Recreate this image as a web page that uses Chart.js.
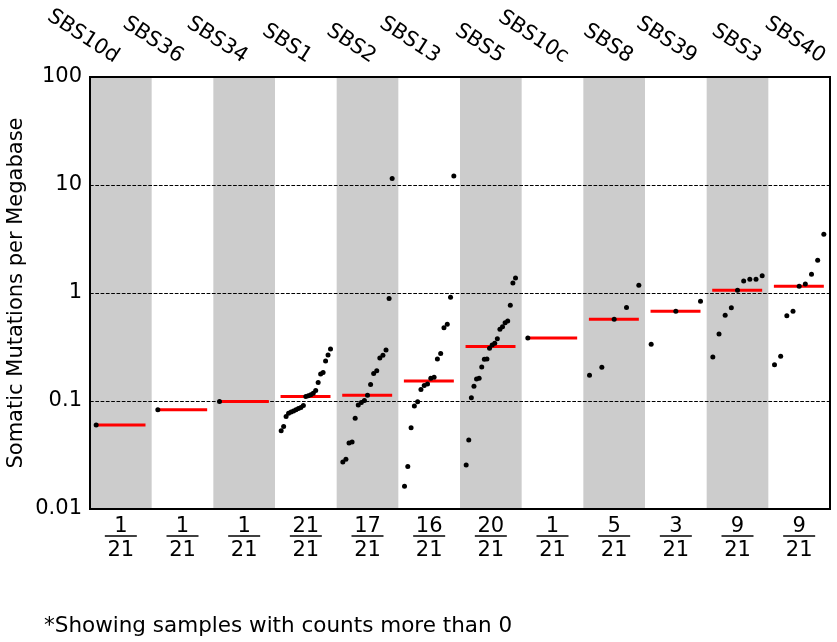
<!DOCTYPE html>
<html>
<head>
    <meta charset="UTF-8">
    <script src="https://cdn.jsdelivr.net/npm/chart.js@4.4.0/dist/chart.umd.min.js"></script>
    <style>
        body { margin: 0; background: #fff; }
    </style>
    <title>Mutational signatures</title>
</head>
<body>
    <canvas id="tmbChart" width="837" height="642"></canvas>

    <script>
        // signature names (top labels) and sample totals
        const signatures = ['SBS10d', 'SBS36', 'SBS34', 'SBS1', 'SBS2', 'SBS13', 'SBS5', 'SBS10c', 'SBS8', 'SBS39', 'SBS3', 'SBS40'];
        const totalSamples = 21;

        // mutations per megabase, per signature, sorted
        const sbs10d = [0.060];
        const sbs36 = [0.083];
        const sbs34 = [0.099];
        const sbs1 = [0.053, 0.058, 0.072, 0.077, 0.079, 0.081, 0.083, 0.085, 0.087, 0.091, 0.110, 0.112, 0.114, 0.118, 0.125, 0.148, 0.178, 0.184, 0.234, 0.267, 0.303];
        const sbs2 = [0.0272, 0.0289, 0.0408, 0.0417, 0.0691, 0.0918, 0.0966, 0.101, 0.113, 0.142, 0.180, 0.191, 0.250, 0.265, 0.297, 0.887, 11.5];
        const sbs13 = [0.0162, 0.0248, 0.0566, 0.090, 0.0986, 0.128, 0.139, 0.144, 0.162, 0.166, 0.245, 0.276, 0.477, 0.513, 0.912, 12.1];
        const sbs5 = [0.0255, 0.0435, 0.107, 0.137, 0.160, 0.162, 0.206, 0.243, 0.245, 0.308, 0.330, 0.342, 0.378, 0.461, 0.488, 0.531, 0.550, 0.769, 1.238, 1.377];
        const sbs10c = [0.383];
        const sbs8 = [0.173, 0.205, 0.570, 0.736, 1.178];
        const sbs39 = [0.335, 0.676, 0.838];
        const sbs3 = [0.255, 0.417, 0.621, 0.731, 1.059, 1.291, 1.339, 1.339, 1.446];
        const sbs40 = [0.217, 0.259, 0.616, 0.676, 1.153, 1.212, 1.490, 2.005, 3.49];

        const sampleValues = [sbs10d, sbs36, sbs34, sbs1, sbs2, sbs13, sbs5, sbs10c, sbs8, sbs39, sbs3, sbs40];

        const yTicks = [0.01, 0.1, 1, 10, 100];
        const yTickLabels = ['0.01', '0.1', '1', '10', '100'];

        const FONT = 'DejaVu Sans';

        function median(arr) {
            const s = arr.slice().sort((a, b) => a - b);
            const m = Math.floor(s.length / 2);
            return s.length % 2 ? s[m] : (s[m - 1] + s[m]) / 2;
        }

        // spread each signature's samples across its column
        const pointData = [];
        const medianData = [];
        sampleValues.forEach(function (vals, i) {
            const n = vals.length;
            vals.forEach(function (v, j) {
                const frac = n > 1 ? j / (n - 1) : 0;
                pointData.push({ x: i + 0.1 + 0.8 * frac, y: v });
            });
            const med = median(vals);
            medianData.push({ x: i + 0.09, y: med });
            medianData.push({ x: i + 0.9, y: med });
            medianData.push({ x: i + 0.95, y: null });
        });

        const decorPlugin = {
            id: 'decor',
            beforeDraw(chart) {
                const ctx = chart.ctx;
                const ca = chart.chartArea;
                const xs = chart.scales.x;
                ctx.save();
                ctx.fillStyle = '#fff';
                ctx.fillRect(0, 0, chart.width, chart.height);
                ctx.fillStyle = '#cccccc';
                for (let i = 0; i < signatures.length; i += 2) {
                    const x0 = xs.getPixelForValue(i);
                    const x1 = xs.getPixelForValue(i + 1);
                    ctx.fillRect(x0, ca.top, x1 - x0, ca.bottom - ca.top);
                }
                ctx.restore();
            },
            afterDraw(chart) {
                const ctx = chart.ctx;
                const ca = chart.chartArea;
                const xs = chart.scales.x;
                ctx.save();

                // frame
                ctx.strokeStyle = '#000';
                ctx.lineWidth = 2;
                ctx.strokeRect(ca.left, ca.top, ca.right - ca.left, ca.bottom - ca.top);

                // fraction bars under the counts
                ctx.lineWidth = 1.5;
                for (let i = 0; i < signatures.length; i++) {
                    const cx = xs.getPixelForValue(i + 0.5);
                    ctx.beginPath();
                    ctx.moveTo(cx - 16, 536);
                    ctx.lineTo(cx + 16, 536);
                    ctx.stroke();
                }

                // rotated signature names above the plot
                ctx.fillStyle = '#000';
                ctx.font = '21px "' + FONT + '"';
                ctx.textAlign = 'right';
                ctx.textBaseline = 'alphabetic';
                const step = (ca.right - ca.left) * 0.08676;
                signatures.forEach(function (name, k) {
                    ctx.save();
                    ctx.translate(ca.left + 24 + k * step, 63);
                    ctx.rotate(33 * Math.PI / 180);
                    ctx.fillText(name, 0, 0);
                    ctx.restore();
                });

                // footnote
                ctx.textAlign = 'left';
                ctx.font = '21.5px "' + FONT + '"';
                ctx.fillText('*Showing samples with counts more than 0', 44, 632);
                ctx.restore();
            }
        };

        const ctx = document.getElementById('tmbChart').getContext('2d');
        new Chart(ctx, {
            type: 'scatter',
            data: {
                datasets: [
                    {
                        label: 'Samples',
                        data: pointData,
                        backgroundColor: '#000',
                        borderWidth: 0,
                        pointRadius: 2.5,
                        order: 0
                    },
                    {
                        type: 'line',
                        label: 'Median',
                        data: medianData,
                        borderColor: '#ff0000',
                        borderWidth: 3,
                        pointRadius: 0,
                        spanGaps: false,
                        order: 1
                    }
                ]
            },
            options: {
                responsive: false,
                animation: false,
                devicePixelRatio: 1,
                layout: { padding: { top: 77, right: 7, left: 0, bottom: 0 } },
                plugins: {
                    legend: { display: false },
                    tooltip: { enabled: false }
                },
                scales: {
                    x: {
                        type: 'linear',
                        position: 'bottom',
                        min: 0,
                        max: signatures.length,
                        grid: { display: false },
                        border: { display: false },
                        afterBuildTicks: function (scale) {
                            scale.ticks = signatures.map((s, i) => ({ value: i + 0.5 }));
                        },
                        afterFit: function (scale) { scale.height = 133; },
                        ticks: {
                            autoSkip: false,
                            maxRotation: 0,
                            minRotation: 0,
                            padding: -2,
                            color: '#000',
                            font: { family: FONT, size: 21, lineHeight: 24 / 21 },
                            callback: function (value) {
                                const i = Math.floor(value);
                                return [String(sampleValues[i].length), String(totalSamples)];
                            }
                        }
                    },
                    y: {
                        type: 'logarithmic',
                        min: 0.01,
                        max: 100,
                        afterBuildTicks: function (scale) {
                            scale.ticks = yTicks.map(v => ({ value: v }));
                        },
                        afterFit: function (scale) { scale.width = 90; },
                        grid: {
                            drawTicks: false,
                            lineWidth: 1,
                            color: function (c) {
                                const v = c.tick ? c.tick.value : 0;
                                return (v === 0.01 || v === 100) ? 'rgba(0,0,0,0)' : '#000';
                            }
                        },
                        border: { display: false, dash: [3.7, 1.6] },
                        ticks: {
                            padding: 8,
                            color: '#000',
                            font: { family: FONT, size: 21 },
                            callback: function (value) {
                                const idx = yTicks.indexOf(value);
                                return idx >= 0 ? yTickLabels[idx] : '';
                            }
                        },
                        title: {
                            display: true,
                            text: 'Somatic Mutations per Megabase',
                            color: '#000',
                            font: { family: FONT, size: 21 },
                            padding: { top: 4, bottom: 0 }
                        }
                    }
                }
            },
            plugins: [decorPlugin]
        });
    </script>
</body>
</html>
